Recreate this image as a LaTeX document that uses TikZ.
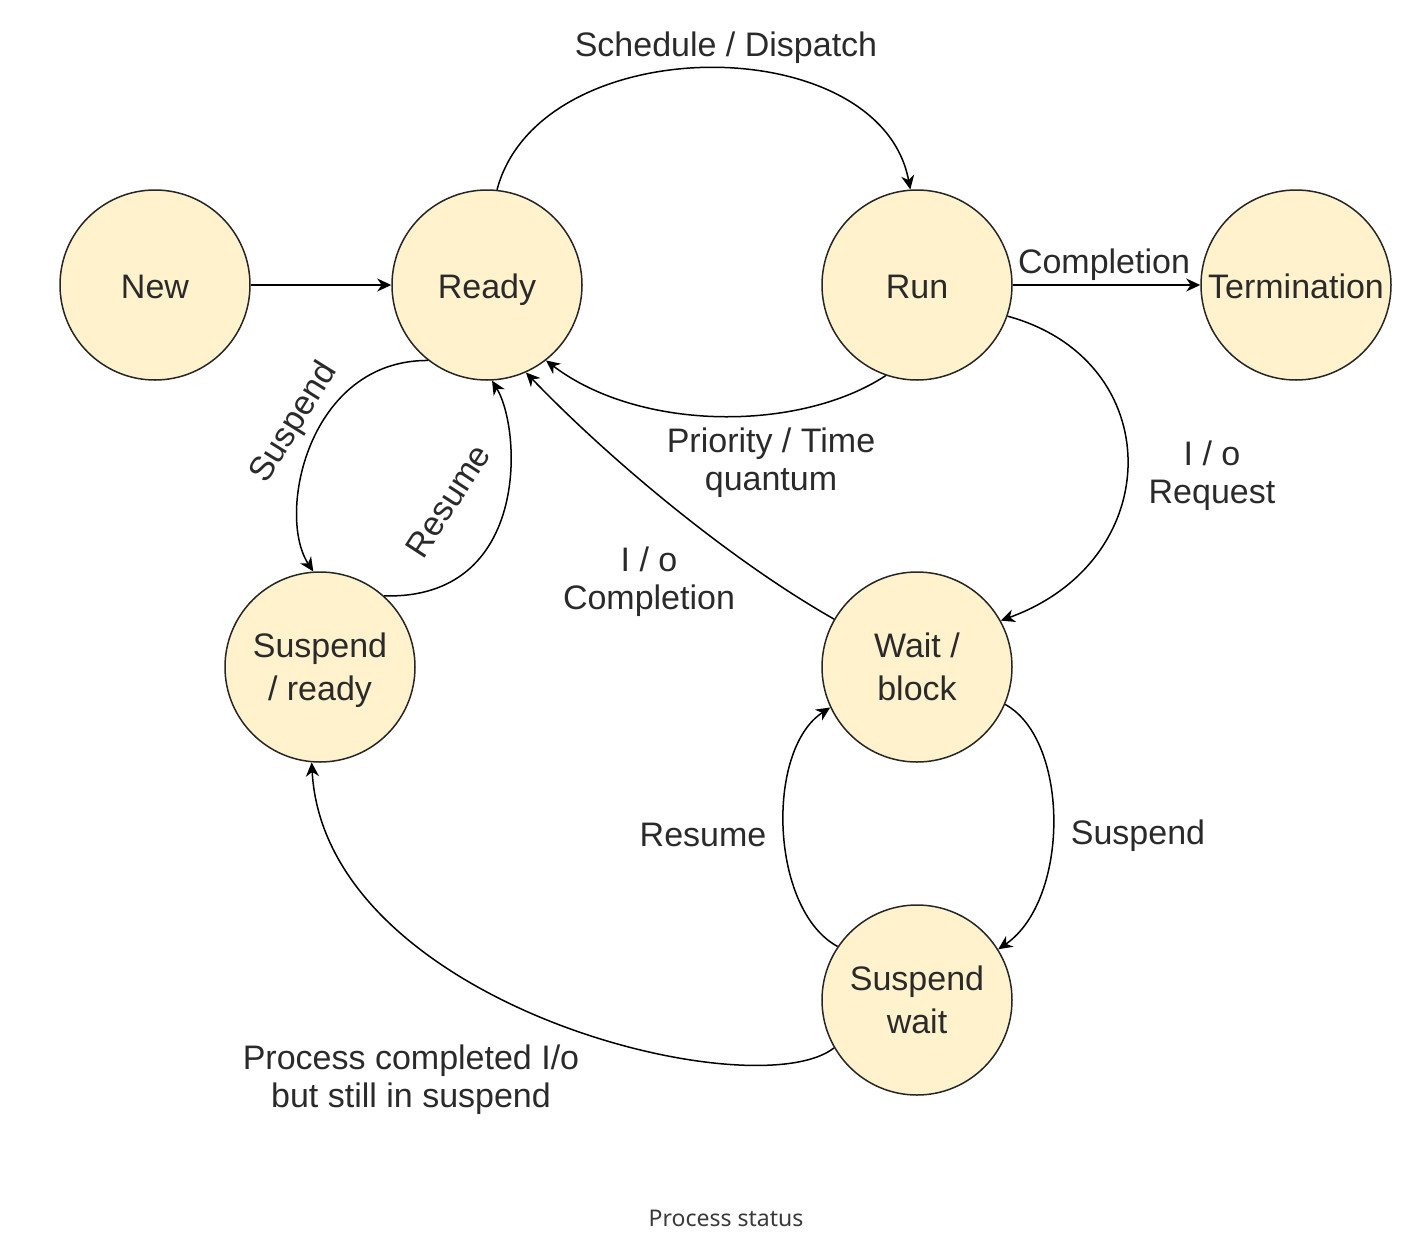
\documentclass[tikz,border=0pt]{standalone}
\usepackage{fontspec}
\setmainfont{Liberation Sans}
\newfontfamily\capfont{Noto Sans}
\usetikzlibrary{arrows.meta}
\definecolor{statefill}{HTML}{FFF2CC}
\definecolor{txtcol}{HTML}{2A2A2A}
\definecolor{capcol}{HTML}{3A3A3A}
\begin{document}
\begin{tikzpicture}[x=0.5pt,y=-0.5pt,
  state/.style={circle,draw=black!85,line width=0.75pt,fill=statefill,minimum size=95pt,inner sep=0pt,
    align=center,text=txtcol,font=\fontsize{17}{21.5}\selectfont},
  oneline/.style={text height=13.3pt,text depth=0pt},
  lbl/.style={align=center,text=txtcol,font=\fontsize{17}{19}\selectfont,inner sep=0pt},
  arr/.style={draw=black,line width=0.75pt,-{Stealth[length=7pt,width=6.5pt,inset=2.2pt]}}]
\useasboundingbox (0,0) rectangle (1414,1248);
% states
\node[state,oneline] (new) at (155,285) {New};
\node[state,oneline] (ready) at (487,285) {Ready};
\node[state,oneline] (run) at (917,285) {Run};
\node[state,oneline] (term) at (1296,285) {Termination};
\node[state,text depth=0pt] (sready) at (320,667) {Suspend\\/ ready};
\node[state] (wait) at (917,667) {Wait /\\block};
\node[state] (swait) at (917,1000) {Suspend\\wait};
% connectors
\draw[arr] (new) -- (ready);
\draw[arr] (run) -- (term);
\draw[arr] (ready.84) .. controls (540,28) and (880,28) .. (run.94);
\draw[arr] (run.251) .. controls (800,432) and (640,432) .. (ready.-52);
\draw[arr] (run.-19) .. controls (1168,360) and (1168,560) .. (wait.29);
\draw[arr] (wait.150) .. controls (730,560) and (610,460) .. (ready.-66);
\draw[arr] (ready.-128) .. controls (308,360) and (276,515) .. (sready.94);
\draw[arr] (sready.48) .. controls (530,600) and (522,430) .. (ready.-87);
\draw[arr] (wait.-23) .. controls (1070,740) and (1070,900) .. (swait.32);
\draw[arr] (swait.146) .. controls (770,910) and (765,750) .. (wait.205);
\draw[arr] (swait.210) .. controls (755,1110) and (325,1005) .. (sready.-95);
% labels
\node[lbl] (lsched) at (726,48) {Schedule / Dispatch};
\node[lbl] (lcompl) at (1104,265) {Completion};
\node[lbl] (lprio) at (771,463) {Priority / Time\\quantum};
\node[lbl] (lioreq) at (1212,476) {I / o\\Request};
\node[lbl] (liocomp) at (649,582) {I / o\\Completion};
\node[lbl,rotate=58] (lsusp1) at (295,423) {Suspend};
\node[lbl,rotate=57] (lres1) at (448,501) {Resume};
\node[lbl] (lres2) at (703,835) {Resume};
\node[lbl] (lsusp2) at (1138,836) {Suspend};
\node[lbl] (lproc) at (411,1080) {Process completed I/o\\but still in suspend};
\node[text=capcol,font=\capfont\fontsize{11.5}{13}\selectfont,inner sep=0pt] (caption) at (726,1218) {Process status};
\end{tikzpicture}
\end{document}
